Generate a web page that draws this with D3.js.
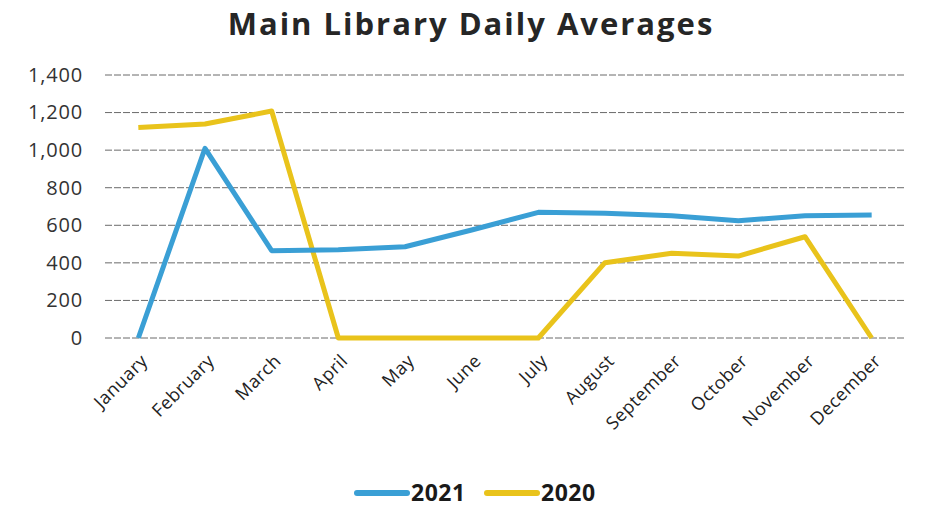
<!DOCTYPE html>
<html>
<head>
<meta charset="utf-8">
<script src="https://cdn.jsdelivr.net/npm/d3@7"></script>
<style>
  body { margin: 0; background: #fff; }
  svg text { font-family: "Open Sans", "Noto Sans", sans-serif; }
</style>
</head>
<body>
<div id="chart"></div>
<script>
/* Main Library Daily Averages — 2021 vs 2020 */
var months = ['January', 'February', 'March', 'April', 'May', 'June',
              'July', 'August', 'September', 'October', 'November', 'December'];
var values2021 = [0, 1010, 465, 470, 486, 575, 669, 664, 651, 624, 651, 655];
var values2020 = [1121, 1139, 1208, 0, 0, 0, 0, 401, 451, 436, 539, 0];
var yTicks = [0, 200, 400, 600, 800, 1000, 1200, 1400];
var series = [
  { name: '2021', values: values2021, color: '#3a9fd5' },
  { name: '2020', values: values2020, color: '#e9c31b' }
];

var W = 931, H = 511;
var plot = { left: 105, right: 905, top: 75, bottom: 338 };

var svg = d3.select('#chart').append('svg')
  .attr('width', W).attr('height', H);

var x = d3.scalePoint().domain(months)
  .range([plot.left, plot.right]).padding(0.5);
var y = d3.scaleLinear().domain([0, 1400])
  .range([plot.bottom, plot.top]);

/* title */
svg.append('text')
  .attr('x', 471).attr('y', 35)
  .attr('text-anchor', 'middle')
  .attr('font-size', 31).attr('font-weight', 'bold')
  .attr('letter-spacing', 2)
  .attr('fill', '#262626')
  .text('Main Library Daily Averages');

/* gridlines */
svg.append('g').selectAll('line').data(yTicks).join('line')
  .attr('x1', plot.left).attr('x2', plot.right)
  .attr('y1', function (d) { return y(d); })
  .attr('y2', function (d) { return y(d); })
  .attr('stroke', '#6a6a6a').attr('stroke-width', 1)
  .attr('stroke-dasharray', '7,2');

/* y axis labels */
var yAxis = svg.append('g')
  .attr('transform', 'translate(' + (plot.left - 22) + ',0)')
  .call(d3.axisLeft(y).tickValues(yTicks).tickSize(0).tickPadding(0)
    .tickFormat(d3.format(',')));
yAxis.select('.domain').remove();
yAxis.selectAll('text')
  .attr('font-size', 20).attr('fill', '#333')
  .attr('letter-spacing', 0.8)
  .style('font-family', '"Open Sans", "Noto Sans", sans-serif');

/* x axis labels */
var xAxis = svg.append('g')
  .attr('transform', 'translate(0,' + plot.bottom + ')')
  .call(d3.axisBottom(x).tickSize(0).tickPadding(0));
xAxis.select('.domain').remove();
xAxis.selectAll('text')
  .attr('font-size', 18).attr('fill', '#222')
  .attr('letter-spacing', 0.5)
  .style('font-family', '"Open Sans", "Noto Sans", sans-serif')
  .attr('text-anchor', 'end')
  .attr('dy', 0).attr('y', 0)
  .attr('transform', 'translate(10,24) rotate(-45)');

/* lines */
var line = d3.line()
  .x(function (d, i) { return x(months[i]); })
  .y(function (d) { return y(d); });

svg.append('g').selectAll('path').data(series.slice().reverse()).join('path')
  .attr('d', function (s) { return line(s.values); })
  .attr('fill', 'none')
  .attr('stroke', function (s) { return s.color; })
  .attr('stroke-width', 5)
  .attr('stroke-linejoin', 'round');

/* legend */
var legend = svg.append('g').attr('transform', 'translate(357,493)');
var lx = 0;
series.forEach(function (s) {
  legend.append('line')
    .attr('x1', lx).attr('x2', lx + 50)
    .attr('y1', 0).attr('y2', 0)
    .attr('stroke', s.color).attr('stroke-width', 6)
    .attr('stroke-linecap', 'round');
  legend.append('text')
    .attr('x', lx + 54).attr('y', 8)
    .attr('font-size', 23).attr('font-weight', 'bold')
    .attr('letter-spacing', 0.5)
    .attr('fill', '#1a1a1a')
    .text(s.name);
  lx += 130;
});
</script>
</body>
</html>
